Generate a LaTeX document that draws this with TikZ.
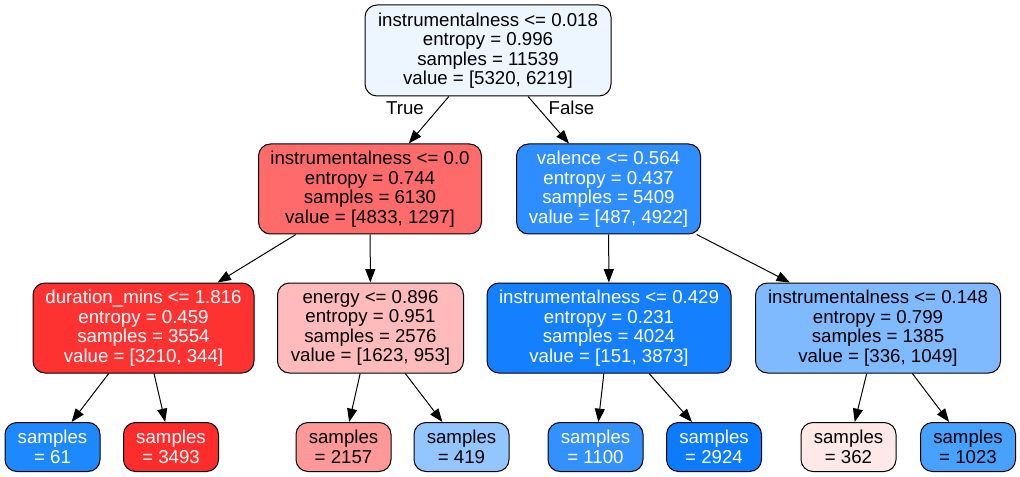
\documentclass[tikz,border=0pt]{standalone}
\usepackage{fontspec}
\setmainfont{Liberation Sans}
\usetikzlibrary{arrows.meta}
\definecolor{cRoot}{HTML}{EDF5FE}
\definecolor{cA}{HTML}{FF6B6B}
\definecolor{cB}{HTML}{2E8EFF}
\definecolor{cC}{HTML}{FF3232}
\definecolor{cD}{HTML}{FFBBBB}
\definecolor{cE}{HTML}{147FFF}
\definecolor{cF}{HTML}{7FBAFF}
\definecolor{cL1}{HTML}{1E88FF}
\definecolor{cL2}{HTML}{FF2C2C}
\definecolor{cL3}{HTML}{FF9999}
\definecolor{cL4}{HTML}{93C6FF}
\definecolor{cL5}{HTML}{3391FF}
\definecolor{cL6}{HTML}{0B7BFF}
\definecolor{cL7}{HTML}{FFE8E8}
\definecolor{cL8}{HTML}{47A1FF}
\tikzset{
  tn/.style={draw=black, line width=0.75pt, rounded corners=9pt, inner sep=0pt,
    align=center, font=\fontsize{14}{14.6}\selectfont, minimum height=90*0.75pt},
  leaf/.style={tn, minimum width=95*0.75pt, minimum height=49*0.75pt,
    font=\fontsize{14}{15}\selectfont},
  wt/.style={text=white},
  edge/.style={-{Triangle[length=10pt,width=7.5pt]}, line width=0.75pt},
  lbl/.style={inner sep=0pt, font=\fontsize{14}{14.6}\selectfont},
}
\begin{document}
\begin{tikzpicture}[x=0.75pt,y=-0.75pt]
\useasboundingbox (0,0) rectangle (1020,477);
\node[tn, fill=cRoot, minimum width=246*0.75pt, minimum height=91*0.75pt] (root) at (488,50.5)
  {instrumentalness <= 0.018\\entropy = 0.996\\samples = 11539\\value = [5320, 6219]};
\node[tn, fill=cA, minimum width=223*0.75pt] (a) at (370,189)
  {instrumentalness <= 0.0\\entropy = 0.744\\samples = 6130\\value = [4833, 1297]};
\node[tn, fill=cB, wt, minimum width=184*0.75pt] (b) at (608.5,189)
  {valence <= 0.564\\entropy = 0.437\\samples = 5409\\value = [487, 4922]};
\node[tn, fill=cC, wt, minimum width=221*0.75pt] (c) at (143.5,328)
  {duration\_mins <= 1.816\\entropy = 0.459\\samples = 3554\\value = [3210, 344]};
\node[tn, fill=cD, minimum width=186*0.75pt] (d) at (370.5,328)
  {energy <= 0.896\\entropy = 0.951\\samples = 2576\\value = [1623, 953]};
\node[tn, fill=cE, wt, minimum width=244*0.75pt] (e) at (609,328)
  {instrumentalness <= 0.429\\entropy = 0.231\\samples = 4024\\value = [151, 3873]};
\node[tn, fill=cF, minimum width=245*0.75pt] (f) at (878,328)
  {instrumentalness <= 0.148\\entropy = 0.799\\samples = 1385\\value = [336, 1049]};
\node[leaf, fill=cL1, wt] (l1) at (52.5,447) {samples\\= 61};
\node[leaf, fill=cL2, wt] (l2) at (171,447) {samples\\= 3493};
\node[leaf, fill=cL3] (l3) at (343.5,447) {samples\\= 2157};
\node[leaf, fill=cL4] (l4) at (461.5,447) {samples\\= 419};
\node[leaf, fill=cL5, wt] (l5) at (595.5,447) {samples\\= 1100};
\node[leaf, fill=cL6, wt] (l6) at (714,447) {samples\\= 2924};
\node[leaf, fill=cL7] (l7) at (848.5,447) {samples\\= 362};
\node[leaf, fill=cL8] (l8) at (968,447) {samples\\= 1023};
\draw[edge] (root) -- (a);
\draw[edge] (root) -- (b);
\draw[edge] (a) -- (c);
\draw[edge] (a) -- (d);
\draw[edge] (b) -- (e);
\draw[edge] (b) -- (f);
\draw[edge] (c) -- (l1);
\draw[edge] (c) -- (l2);
\draw[edge] (d) -- (l3);
\draw[edge] (d) -- (l4);
\draw[edge] (e) -- (l5);
\draw[edge] (e) -- (l6);
\draw[edge] (f) -- (l7);
\draw[edge] (f) -- (l8);
\node[lbl] (tl) at (405,108) {True};
\node[lbl] (fl) at (571.5,108) {False};
\end{tikzpicture}
\end{document}
